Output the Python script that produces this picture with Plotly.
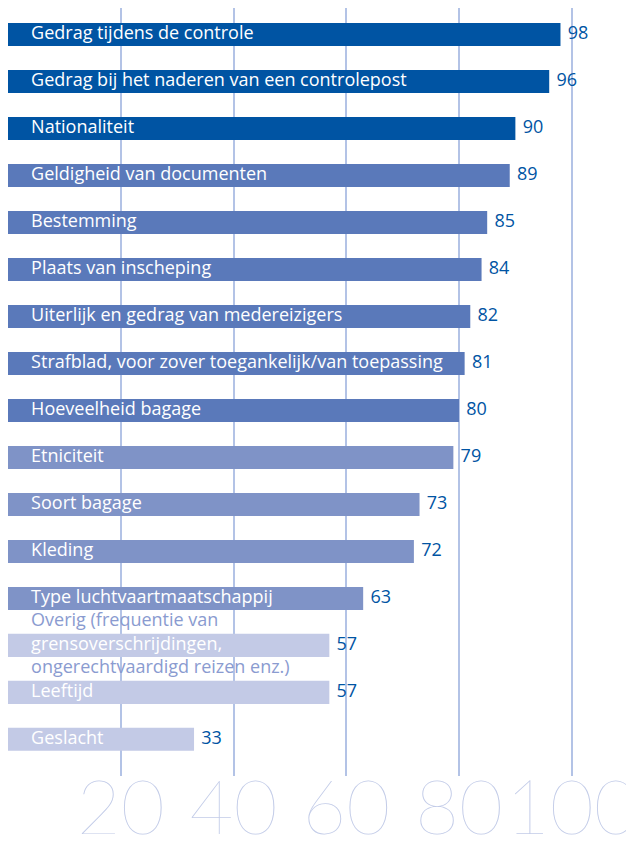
import plotly.graph_objects as go

categories = [
    "Gedrag tijdens de controle",
    "Gedrag bij het naderen van een controlepost",
    "Nationaliteit",
    "Geldigheid van documenten",
    "Bestemming",
    "Plaats van inscheping",
    "Uiterlijk en gedrag van medereizigers",
    "Strafblad, voor zover toegankelijk/van toepassing",
    "Hoeveelheid bagage",
    "Etniciteit",
    "Soort bagage",
    "Kleding",
    "Type luchtvaartmaatschappij",
    "Overig (frequentie van<br>grensoverschrijdingen,<br>ongerechtvaardigd reizen enz.)",
    "Leeftijd",
    "Geslacht",
]
values = [98, 96, 90, 89, 85, 84, 82, 81, 80, 79, 73, 72, 63, 57, 57, 33]
groups = [0, 0, 0, 1, 1, 1, 1, 1, 1, 2, 2, 2, 2, 3, 3, 3]
tick_vals = [20, 40, 60, 80, 100]
tick_text = ["20", "40", "60", "80", "100"]

group_colors = ["#0054A3", "#5A79BA", "#7F93C7", "#C3CAE6"]
bar_colors = [group_colors[g] for g in groups]
keys = list(range(len(categories)))

# label text: the Overig label spills outside its bar, colour its outer lines
label_text = []
for c in categories:
    if "<br>" in c:
        parts = c.split("<br>")
        label_text.append(
            "<span style='color:#8A9BD0'>" + parts[0] + "</span><br>"
            + "<span style='color:#FFFFFF'>" + parts[1] + "</span><br>"
            + "<span style='color:#8A9BD0'>" + parts[2] + "</span>"
        )
    else:
        label_text.append(c)

fig = go.Figure()
fig.add_trace(go.Bar(
    x=values, y=keys, orientation="h",
    marker=dict(color=bar_colors, line=dict(width=0)),
    width=0.49, hoverinfo="skip",
))
fig.add_trace(go.Scatter(
    x=[4.1] * len(keys), y=keys, mode="text", text=label_text,
    textposition="middle right",
    textfont=dict(family="Open Sans", size=18, color="#FFFFFF"),
    hoverinfo="skip", cliponaxis=False,
))
fig.add_trace(go.Scatter(
    x=values, y=keys, mode="markers+text", text=[str(v) for v in values],
    textposition="middle right",
    marker=dict(size=10, color="rgba(0,0,0,0)"),
    textfont=dict(family="Open Sans", size=18, color="#0054A3"),
    hoverinfo="skip", cliponaxis=False,
))

fig.update_layout(
    width=634, height=844,
    margin=dict(l=0, r=0, t=0, b=76),
    paper_bgcolor="white", plot_bgcolor="white",
    showlegend=False,
    xaxis=dict(
        range=[0, 112.46], tickvals=tick_vals, ticktext=tick_text,
        showgrid=True, gridcolor="#B3C3E6", gridwidth=1.5,
        zeroline=False, showline=False, ticks="", automargin=False,
        ticklabeloverflow="allow", ticklabelstandoff=-19, tickangle=0,
        tickfont=dict(family="Lato", size=76, color="#C3CCE8", weight=200),
    ),
    yaxis=dict(
        range=[15.78, -0.565], showticklabels=False, showgrid=False,
        zeroline=False, showline=True, linecolor="#0054A3", linewidth=4,
        ticks="", automargin=False,
    ),
)

fig.write_html("out.html")
